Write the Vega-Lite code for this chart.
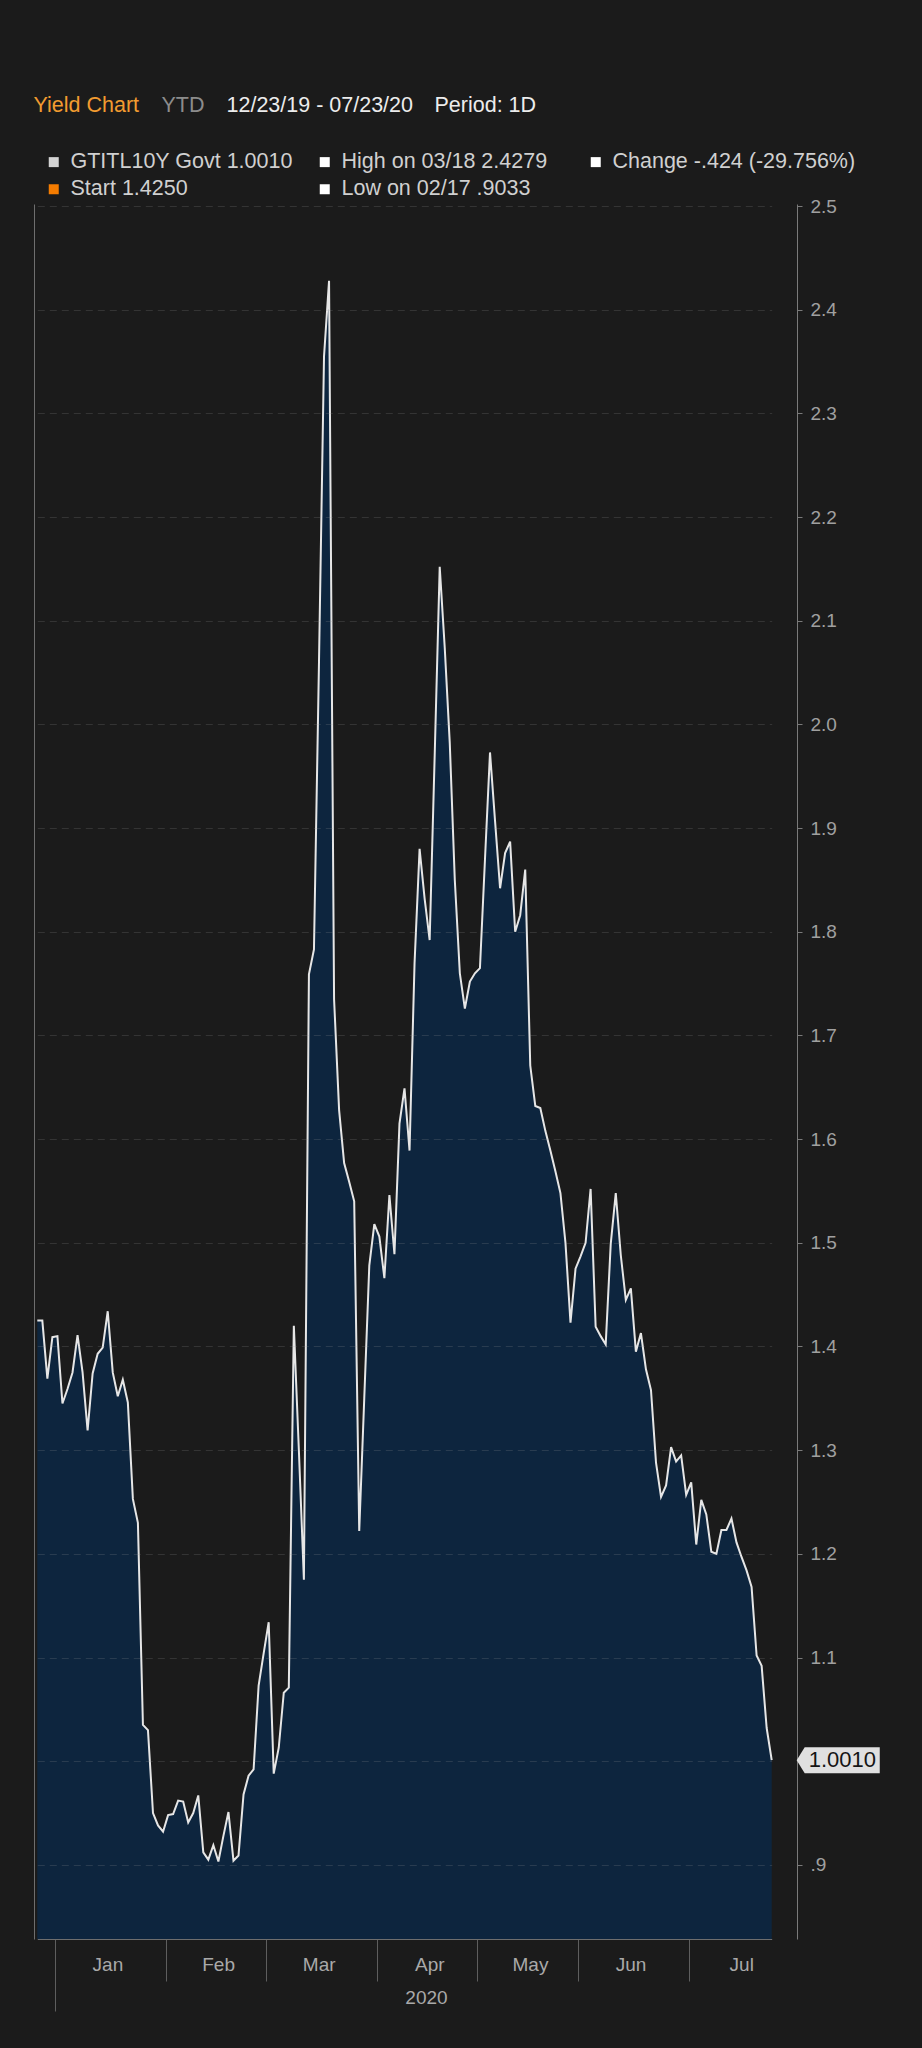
{
  "$schema": "https://vega.github.io/schema/vega-lite/v6.json",
  "width": 763,
  "height": 1735,
  "autosize": {"type": "none"},
  "padding": {"left": 34, "top": 204, "right": 125, "bottom": 109},
  "background": "#1b1b1b",
  "config": {"view": {"stroke": null}, "font": "Liberation Sans"},
  "datasets": {
    "yield": [
      {"date": "2019-12-24", "value": 1.425}, {"date": "2019-12-27", "value": 1.425}, {"date": "2019-12-30", "value": 1.369}, {"date": "2019-12-31", "value": 1.409},
      {"date": "2020-01-02", "value": 1.410}, {"date": "2020-01-03", "value": 1.345}, {"date": "2020-01-06", "value": 1.359}, {"date": "2020-01-07", "value": 1.375},
      {"date": "2020-01-08", "value": 1.411}, {"date": "2020-01-09", "value": 1.375}, {"date": "2020-01-10", "value": 1.319}, {"date": "2020-01-13", "value": 1.374},
      {"date": "2020-01-14", "value": 1.393}, {"date": "2020-01-15", "value": 1.399}, {"date": "2020-01-16", "value": 1.434}, {"date": "2020-01-17", "value": 1.375},
      {"date": "2020-01-20", "value": 1.352}, {"date": "2020-01-21", "value": 1.368}, {"date": "2020-01-22", "value": 1.346}, {"date": "2020-01-23", "value": 1.253},
      {"date": "2020-01-24", "value": 1.230}, {"date": "2020-01-27", "value": 1.035}, {"date": "2020-01-28", "value": 1.030}, {"date": "2020-01-29", "value": 0.950},
      {"date": "2020-01-30", "value": 0.938}, {"date": "2020-01-31", "value": 0.932},
      {"date": "2020-02-03", "value": 0.948}, {"date": "2020-02-04", "value": 0.949}, {"date": "2020-02-05", "value": 0.962}, {"date": "2020-02-06", "value": 0.961},
      {"date": "2020-02-07", "value": 0.941}, {"date": "2020-02-10", "value": 0.950}, {"date": "2020-02-11", "value": 0.967}, {"date": "2020-02-12", "value": 0.912},
      {"date": "2020-02-13", "value": 0.905}, {"date": "2020-02-14", "value": 0.919}, {"date": "2020-02-17", "value": 0.9033}, {"date": "2020-02-18", "value": 0.928},
      {"date": "2020-02-19", "value": 0.951}, {"date": "2020-02-20", "value": 0.904}, {"date": "2020-02-21", "value": 0.909}, {"date": "2020-02-24", "value": 0.968},
      {"date": "2020-02-25", "value": 0.986}, {"date": "2020-02-26", "value": 0.992}, {"date": "2020-02-27", "value": 1.073}, {"date": "2020-02-28", "value": 1.104},
      {"date": "2020-03-02", "value": 1.134}, {"date": "2020-03-03", "value": 0.988}, {"date": "2020-03-04", "value": 1.013}, {"date": "2020-03-05", "value": 1.066},
      {"date": "2020-03-06", "value": 1.071}, {"date": "2020-03-09", "value": 1.420}, {"date": "2020-03-10", "value": 1.300}, {"date": "2020-03-11", "value": 1.175},
      {"date": "2020-03-12", "value": 1.759}, {"date": "2020-03-13", "value": 1.783}, {"date": "2020-03-16", "value": 2.060}, {"date": "2020-03-17", "value": 2.355},
      {"date": "2020-03-18", "value": 2.4279}, {"date": "2020-03-19", "value": 1.735}, {"date": "2020-03-20", "value": 1.628}, {"date": "2020-03-23", "value": 1.577},
      {"date": "2020-03-24", "value": 1.559}, {"date": "2020-03-25", "value": 1.540}, {"date": "2020-03-26", "value": 1.222}, {"date": "2020-03-27", "value": 1.350},
      {"date": "2020-03-30", "value": 1.478}, {"date": "2020-03-31", "value": 1.518},
      {"date": "2020-04-01", "value": 1.506}, {"date": "2020-04-02", "value": 1.466}, {"date": "2020-04-03", "value": 1.546}, {"date": "2020-04-06", "value": 1.489},
      {"date": "2020-04-07", "value": 1.615}, {"date": "2020-04-08", "value": 1.649}, {"date": "2020-04-09", "value": 1.589}, {"date": "2020-04-14", "value": 1.770},
      {"date": "2020-04-15", "value": 1.880}, {"date": "2020-04-16", "value": 1.832}, {"date": "2020-04-17", "value": 1.792}, {"date": "2020-04-20", "value": 1.970},
      {"date": "2020-04-21", "value": 2.152}, {"date": "2020-04-22", "value": 2.074}, {"date": "2020-04-23", "value": 1.982}, {"date": "2020-04-24", "value": 1.850},
      {"date": "2020-04-27", "value": 1.760}, {"date": "2020-04-28", "value": 1.726}, {"date": "2020-04-29", "value": 1.752}, {"date": "2020-04-30", "value": 1.760},
      {"date": "2020-05-04", "value": 1.765}, {"date": "2020-05-05", "value": 1.870}, {"date": "2020-05-06", "value": 1.973}, {"date": "2020-05-07", "value": 1.907},
      {"date": "2020-05-08", "value": 1.842}, {"date": "2020-05-11", "value": 1.876}, {"date": "2020-05-12", "value": 1.887}, {"date": "2020-05-13", "value": 1.800},
      {"date": "2020-05-14", "value": 1.816}, {"date": "2020-05-15", "value": 1.860}, {"date": "2020-05-18", "value": 1.671}, {"date": "2020-05-19", "value": 1.632},
      {"date": "2020-05-20", "value": 1.630}, {"date": "2020-05-21", "value": 1.608}, {"date": "2020-05-22", "value": 1.589}, {"date": "2020-05-25", "value": 1.569},
      {"date": "2020-05-26", "value": 1.548}, {"date": "2020-05-27", "value": 1.500}, {"date": "2020-05-28", "value": 1.423}, {"date": "2020-05-29", "value": 1.475},
      {"date": "2020-06-01", "value": 1.487}, {"date": "2020-06-02", "value": 1.500}, {"date": "2020-06-03", "value": 1.552}, {"date": "2020-06-04", "value": 1.419},
      {"date": "2020-06-05", "value": 1.410}, {"date": "2020-06-08", "value": 1.402}, {"date": "2020-06-09", "value": 1.499}, {"date": "2020-06-10", "value": 1.548},
      {"date": "2020-06-11", "value": 1.488}, {"date": "2020-06-12", "value": 1.445}, {"date": "2020-06-15", "value": 1.456}, {"date": "2020-06-16", "value": 1.395},
      {"date": "2020-06-17", "value": 1.413}, {"date": "2020-06-18", "value": 1.378}, {"date": "2020-06-19", "value": 1.358}, {"date": "2020-06-22", "value": 1.288},
      {"date": "2020-06-23", "value": 1.255}, {"date": "2020-06-24", "value": 1.266}, {"date": "2020-06-25", "value": 1.303}, {"date": "2020-06-26", "value": 1.289},
      {"date": "2020-06-29", "value": 1.295}, {"date": "2020-06-30", "value": 1.257},
      {"date": "2020-07-01", "value": 1.269}, {"date": "2020-07-02", "value": 1.209}, {"date": "2020-07-03", "value": 1.252}, {"date": "2020-07-06", "value": 1.238},
      {"date": "2020-07-07", "value": 1.202}, {"date": "2020-07-08", "value": 1.200}, {"date": "2020-07-09", "value": 1.223}, {"date": "2020-07-10", "value": 1.223},
      {"date": "2020-07-13", "value": 1.234}, {"date": "2020-07-14", "value": 1.211}, {"date": "2020-07-15", "value": 1.197}, {"date": "2020-07-16", "value": 1.184},
      {"date": "2020-07-17", "value": 1.168}, {"date": "2020-07-20", "value": 1.102}, {"date": "2020-07-21", "value": 1.092}, {"date": "2020-07-22", "value": 1.032},
      {"date": "2020-07-23", "value": 1.001}
    ],
    "hdr": [
      {"h": "Yield Chart"}, {"h": "YTD"}, {"h": "12/23/19 - 07/23/20"}, {"h": "Period: 1D"}
    ],
    "info": [
      {"k": "GTITL10Y Govt 1.0010"}, {"k": "High on 03/18 2.4279"}, {"k": "Change -.424 (-29.756%)"}, {"k": "Start 1.4250"}, {"k": "Low on 02/17 .9033"}
    ]
  },
  "layer": [
    {
      "data": {"name": "yield"},
      "mark": {"type": "area", "color": "#0d253e", "clip": true},
      "encoding": {
        "x": {
          "field": "date", "type": "ordinal",
          "scale": {"type": "point", "padding": 0, "range": [3.3, 737.7]},
          "axis": {
            "orient": "bottom",
            "values": ["2020-01-02", "2020-02-03", "2020-03-02", "2020-04-01", "2020-05-04", "2020-06-01", "2020-07-01"],
            "labels": false, "grid": false, "title": null,
            "ticks": true,
            "tickSize": {"condition": {"test": "datum.value === '2020-01-02'", "value": 72}, "value": 42},
            "tickOffset": -2.5, "tickColor": "#5e5e5e", "tickWidth": 1,
            "domain": true, "domainColor": "#6e6e6e", "domainWidth": 1
          }
        },
        "y": {
          "field": "value", "type": "quantitative",
          "scale": {"domain": [0.8285, 2.502], "nice": false, "zero": false},
          "axis": {
            "orient": "left", "title": null, "labels": false, "ticks": false,
            "domain": true, "domainColor": "#6e6e6e", "domainWidth": 1,
            "grid": true, "gridColor": "#9a9a9a", "gridOpacity": 0.2, "gridDash": [7, 5], "gridWidth": 1,
            "values": [0.9, 1.0, 1.1, 1.2, 1.3, 1.4, 1.5, 1.6, 1.7, 1.8, 1.9, 2.0, 2.1, 2.2, 2.3, 2.4, 2.5],
            "zindex": 1
          }
        }
      }
    },
    {
      "data": {"name": "yield"},
      "mark": {"type": "line", "color": "#e6e6e6", "strokeWidth": 2},
      "encoding": {
        "x": {
          "field": "date", "type": "ordinal",
          "scale": {"type": "point", "padding": 0, "range": [3.3, 737.7]},
          "axis": {
            "orient": "bottom",
            "values": ["2020-01-02", "2020-02-03", "2020-03-02", "2020-04-01", "2020-05-04", "2020-06-01", "2020-07-01"],
            "ticks": false, "domain": false, "grid": false,
            "labelExpr": "utcFormat(toDate(datum.value), '%b')",
            "labelOffset": 50, "labelPadding": 25, "labelBaseline": "middle", "labelAlign": "center", "labelAngle": 0,
            "labelFontSize": 19, "labelColor": "#a9a9a9", "labelOverlap": false, "labelBound": false, "labelFlush": false,
            "title": "2020", "titleFontSize": 19, "titleFontWeight": "normal", "titleColor": "#a9a9a9",
            "titleX": 392, "titleY": 58, "titleBaseline": "middle", "titleAlign": "center"
          }
        },
        "y": {
          "field": "value", "type": "quantitative",
          "scale": {"domain": [0.8285, 2.502], "nice": false, "zero": false},
          "axis": {
            "orient": "right", "title": null, "grid": false,
            "values": [0.9, 1.1, 1.2, 1.3, 1.4, 1.5, 1.6, 1.7, 1.8, 1.9, 2.0, 2.1, 2.2, 2.3, 2.4, 2.5],
            "labelExpr": "datum.value < 0.95 ? '.9' : format(datum.value, '.1f')",
            "labelFontSize": 19, "labelColor": "#a0a0a0", "labelPadding": 8,
            "ticks": true, "tickSize": 5, "tickColor": "#7a7a7a",
            "domain": true, "domainColor": "#7a7a7a", "domainWidth": 1
          }
        }
      }
    },
    {
      "data": {"name": "yield"},
      "transform": [{"filter": "datum.date === '2020-07-23'"}],
      "mark": {"type": "point", "shape": "M0.227,0L0.3,-0.118L0.982,-0.118L0.982,0.118L0.3,0.118Z", "size": 48400, "filled": true, "color": "#e0e0e0", "opacity": 1, "strokeWidth": 0},
      "encoding": {
        "x": {"field": "date", "type": "ordinal", "scale": {"type": "point", "padding": 0, "range": [3.3, 737.7]}, "axis": null},
        "y": {"field": "value", "type": "quantitative", "scale": {"domain": [0.8285, 2.502], "nice": false, "zero": false}, "axis": null}
      }
    },
    {
      "data": {"name": "yield"},
      "transform": [{"filter": "datum.date === '2020-07-23'"}],
      "mark": {"type": "text", "align": "left", "baseline": "middle", "dx": 37, "fontSize": 22, "color": "#151515"},
      "encoding": {
        "x": {"field": "date", "type": "ordinal", "scale": {"type": "point", "padding": 0, "range": [3.3, 737.7]}, "axis": null},
        "y": {"field": "value", "type": "quantitative", "scale": {"domain": [0.8285, 2.502], "nice": false, "zero": false}, "axis": null},
        "text": {"field": "value", "type": "quantitative", "format": ".4f"}
      }
    },
    {
      "data": {"name": "hdr"},
      "mark": {"type": "point", "opacity": 0},
      "encoding": {
        "shape": {
          "field": "h", "type": "nominal",
          "scale": {"domain": ["Yield Chart", "YTD", "12/23/19 - 07/23/20", "Period: 1D"]},
          "legend": {
            "orient": "none", "legendX": -22, "legendY": -109, "direction": "horizontal", "columns": 4,
            "columnPadding": -3, "title": null, "padding": 0,
            "symbolSize": 0, "symbolOpacity": 0, "symbolStrokeWidth": 0, "labelOffset": 0,
            "labelFontSize": 21.5, "labelLimit": 500,
            "labelColor": {"expr": "datum.label === 'Yield Chart' ? '#f29b30' : (datum.label === 'YTD' ? '#8c8c8c' : '#ececec')"}
          }
        }
      }
    },
    {
      "data": {"name": "info"},
      "mark": {"type": "square", "opacity": 0},
      "encoding": {
        "color": {
          "field": "k", "type": "nominal",
          "scale": {
            "domain": ["GTITL10Y Govt 1.0010", "High on 03/18 2.4279", "Change -.424 (-29.756%)", "Start 1.4250", "Low on 02/17 .9033"],
            "range": ["#d4d4d4", "#ffffff", "#ffffff", "#f57c00", "#ffffff"]
          },
          "legend": {
            "orient": "none", "legendX": 9, "legendY": -53, "direction": "horizontal", "columns": 3,
            "columnPadding": -1, "rowPadding": 4.5, "gridAlign": "all", "title": null, "padding": 0,
            "symbolType": "square", "symbolSize": 100, "symbolStrokeWidth": 0, "symbolOpacity": 1,
            "labelOffset": 6, "labelFontSize": 21.5, "labelColor": "#d0d0d0", "labelLimit": 500
          }
        }
      }
    }
  ],
  "resolve": {"axis": {"x": "independent", "y": "independent"}}
}
